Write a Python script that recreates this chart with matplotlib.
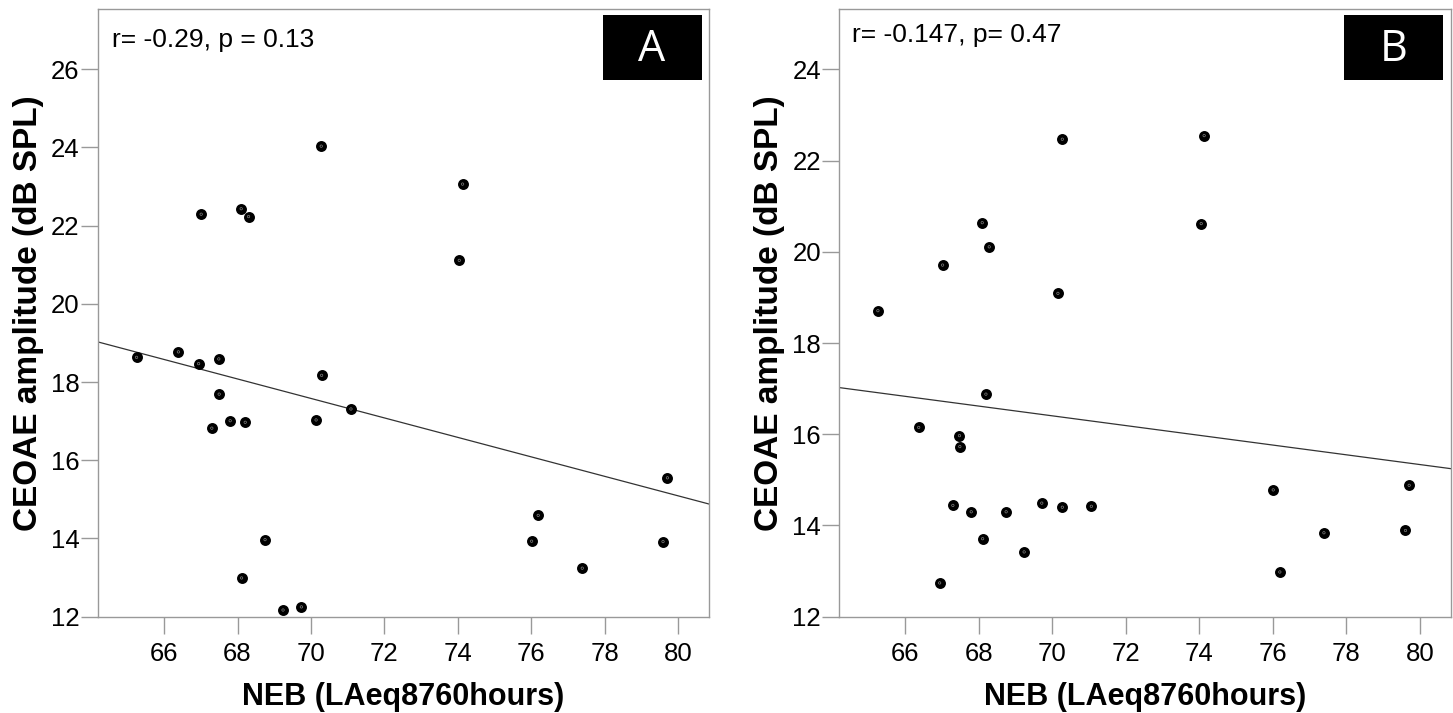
import matplotlib.pyplot as plt
import numpy as np

# NEB (LAeq8760hours) vs CEOAE amplitude
neb_a = [65.25, 66.39, 66.94, 67.49, 67.50, 67.30, 67.80, 68.21, 70.29, 70.14,
         71.09, 68.75, 68.11, 69.24, 69.74, 76.01, 76.19, 77.39, 79.59, 79.71,
         70.28, 74.13, 74.04, 67.01, 68.10, 68.30]
ceoae_a = [18.63, 18.77, 18.47, 18.59, 17.69, 16.82, 17.01, 16.97, 18.17, 17.03,
           17.31, 13.97, 12.99, 12.17, 12.25, 13.93, 14.59, 13.24, 13.92, 15.55,
           24.03, 23.06, 21.11, 22.29, 22.43, 22.23]

neb_b = [68.19, 66.36, 67.47, 67.48, 67.29, 67.79, 68.74, 69.71, 70.27, 71.06,
         68.10, 69.23, 66.93, 76.01, 76.19, 77.39, 79.61, 79.71,
         70.27, 74.13, 74.05, 68.09, 68.28, 67.01, 70.15, 65.25]
ceoae_b = [16.88, 16.15, 15.97, 15.73, 14.44, 14.30, 14.30, 14.49, 14.40, 14.42,
           13.71, 13.42, 12.74, 14.78, 12.98, 13.84, 13.89, 14.88,
           22.47, 22.55, 20.62, 20.64, 20.11, 19.71, 19.09, 18.71]

# fit lines (slope, intercept) as drawn
fit_a = (-0.249, 35.01)
fit_b = (-0.1068, 23.88)

stats = ['r= -0.29, p = 0.13', 'r= -0.147, p= 0.47']
letters = ['A', 'B']
ylims = [(12, 27.53), (12, 25.32)]
yticks = [[12, 14, 16, 18, 20, 22, 24, 26], [12, 14, 16, 18, 20, 22, 24]]
xticks = [66, 68, 70, 72, 74, 76, 78, 80]
xlim = (64.19, 80.84)

plt.rcParams['font.family'] = ['Liberation Sans', 'DejaVu Sans']

fig = plt.figure(figsize=(14.53, 7.13), dpi=100)
ax_a = fig.add_axes([0.0672, 0.1351, 0.4207, 0.8519])
ax_b = fig.add_axes([0.5774, 0.1351, 0.4210, 0.8519])

stat_y = [0.9495, 0.958]
stat_x = [0.0234, 0.021]

panels = [(ax_a, neb_a, ceoae_a, fit_a), (ax_b, neb_b, ceoae_b, fit_b)]
for i, (ax, x, y, fit) in enumerate(panels):
    ax.scatter(x, y, s=62, color='black', zorder=3, linewidths=0)
    ax.scatter(x, y, s=3, facecolors='none', edgecolors='#808080', linewidths=0.5, zorder=4)

    xs = np.array(xlim)
    ax.plot(xs, fit[0] * xs + fit[1], color='#333333', lw=0.9, zorder=2)

    ax.set_xlim(xlim)
    ax.set_ylim(ylims[i])
    ax.set_xticks(xticks)
    ax.set_yticks(yticks[i])
    for s in ax.spines.values():
        s.set_color('#999999')
        s.set_linewidth(1.0)
    ax.tick_params(axis='both', length=12, width=1.0, color='#999999', labelsize=18.5)
    ax.tick_params(axis='y', pad=1)
    ax.tick_params(axis='x', pad=6)

    ax.set_xlabel('NEB (LAeq8760hours)', fontsize=22, fontweight='bold', labelpad=12)
    ax.set_ylabel('CEOAE amplitude (dB SPL)', fontsize=24, fontweight='bold', labelpad=5)

    ax.text(stat_x[i], stat_y[i], stats[i], transform=ax.transAxes, fontsize=19,
            ha='left', va='center')
    ax.add_patch(plt.Rectangle((0.826, 0.883), 0.162, 0.107, transform=ax.transAxes,
                               facecolor='black', edgecolor='none', zorder=5))
    ax.text(0.907, 0.934, letters[i], transform=ax.transAxes, fontsize=31,
            color='white', ha='center', va='center', zorder=6,
            family=['Open Sans', 'DejaVu Sans'])

fig.savefig('out.png', dpi=100)
